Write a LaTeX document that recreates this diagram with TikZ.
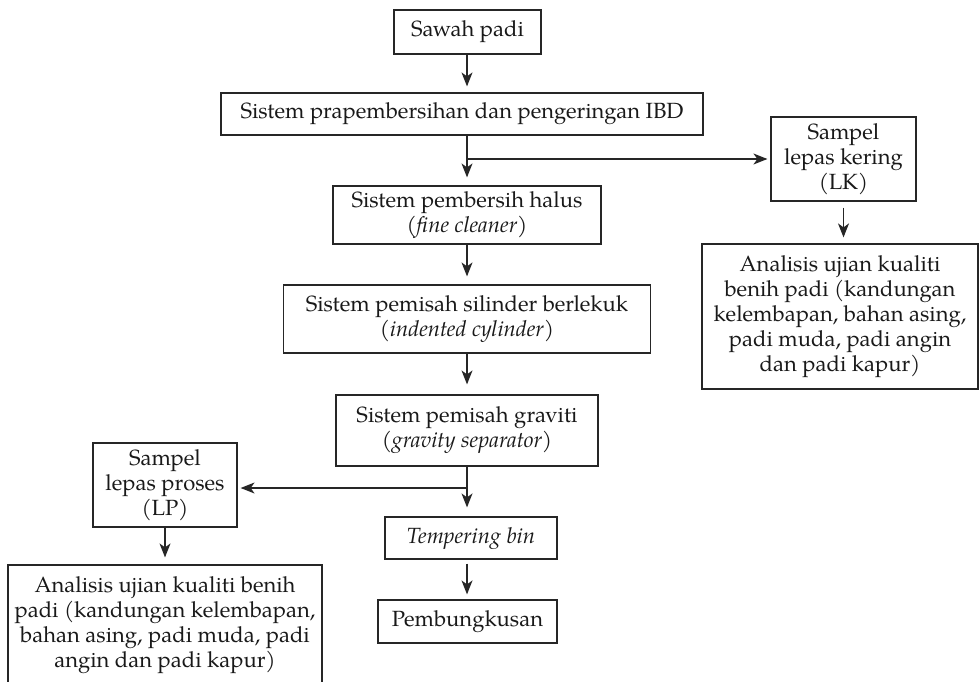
\documentclass[tikz,border=0pt]{standalone}
\usepackage{fontspec}
\setmainfont{TeX Gyre Pagella}
\usetikzlibrary{arrows.meta}
\begin{document}
\begin{tikzpicture}[x=1pt,y=-1pt,
  box/.style={draw=black!85,line width=1.2pt,inner sep=0pt,align=center,
    text=black!90,font=\fontsize{22}{25}\selectfont},
  arr/.style={draw=black!85,line width=1.2pt,-{Stealth[length=14pt,width=11pt,inset=4pt]}},
  ln/.style={draw=black!85,line width=1.2pt}]
\useasboundingbox (0,0) rectangle (979,682);
\node[box,minimum width=147pt,minimum height=44pt] (sawah) at (467.5,32) {Sawah padi};
\node[box,minimum width=482pt,minimum height=42pt] (pra) at (462,114) {Sistem prapembersihan dan pengeringan IBD};
\node[box,minimum width=268pt,minimum height=58pt] (fine) at (467,215) {Sistem pembersih halus\\(\textit{fine cleaner})};
\node[box,minimum width=367pt,minimum height=68pt] (ind) at (467,319) {Sistem pemisah silinder berlekuk\\(\textit{indented cylinder})};
\node[box,minimum width=262pt,minimum height=71pt] (grav) at (467,430.5) {Sistem pemisah graviti\\(\textit{gravity separator})};
\node[box,minimum width=172pt,minimum height=42pt] (temp) at (471,538) {\textit{Tempering bin}};
\node[box,minimum width=179pt,minimum height=43pt] (pemb) at (467.5,621.5) {Pembungkusan};
\node[box,minimum width=145pt,minimum height=84pt] (lk) at (843.5,159) {Sampel\\lepas kering\\(LK)};
\node[box,minimum width=276pt,minimum height=145pt] (anR) at (840,316.5) {Analisis ujian kualiti\\benih padi (kandungan\\kelembapan, bahan asing,\\padi muda, padi angin\\dan padi kapur)};
\node[box,minimum width=144pt,minimum height=84pt] (lp) at (165,485) {Sampel\\lepas proses\\(LP)};
\node[box,minimum width=314pt,minimum height=121pt] (anL) at (165,625.5) {Analisis ujian kualiti benih\\padi (kandungan kelembapan,\\bahan asing, padi muda, padi\\angin dan padi kapur)};
\coordinate (b1) at (467,159);
\coordinate (b2) at (467,488);
\draw[arr,shorten >=6pt] (sawah.south -| b1) -- (pra.north -| b1);
\draw[arr,shorten >=8pt] (pra.south -| b1) -- (fine.north -| b1);
\draw[arr,shorten >=3pt] (b1) -- (b1 -| lk.west);
\draw[arr,shorten <=6pt,shorten >=6pt] (lk.south) -- (anR.north -| lk.south);
\draw[arr,shorten >=8pt] (fine.south -| b1) -- (ind.north -| b1);
\draw[arr,shorten >=10pt] (ind.south -| b1) -- (grav.north -| b1);
\draw[arr,shorten >=9pt] (grav.south -| b1) -- (temp.north -| b1);
\draw[arr,shorten >=3pt] (b2) -- (b2 -| lp.east);
\draw[arr,shorten <=4pt,shorten >=5pt] (temp.south -| b1) -- (pemb.north -| b1);
\draw[arr,shorten >=7pt] (lp.south) -- (anL.north -| lp.south);
\end{tikzpicture}
\end{document}
